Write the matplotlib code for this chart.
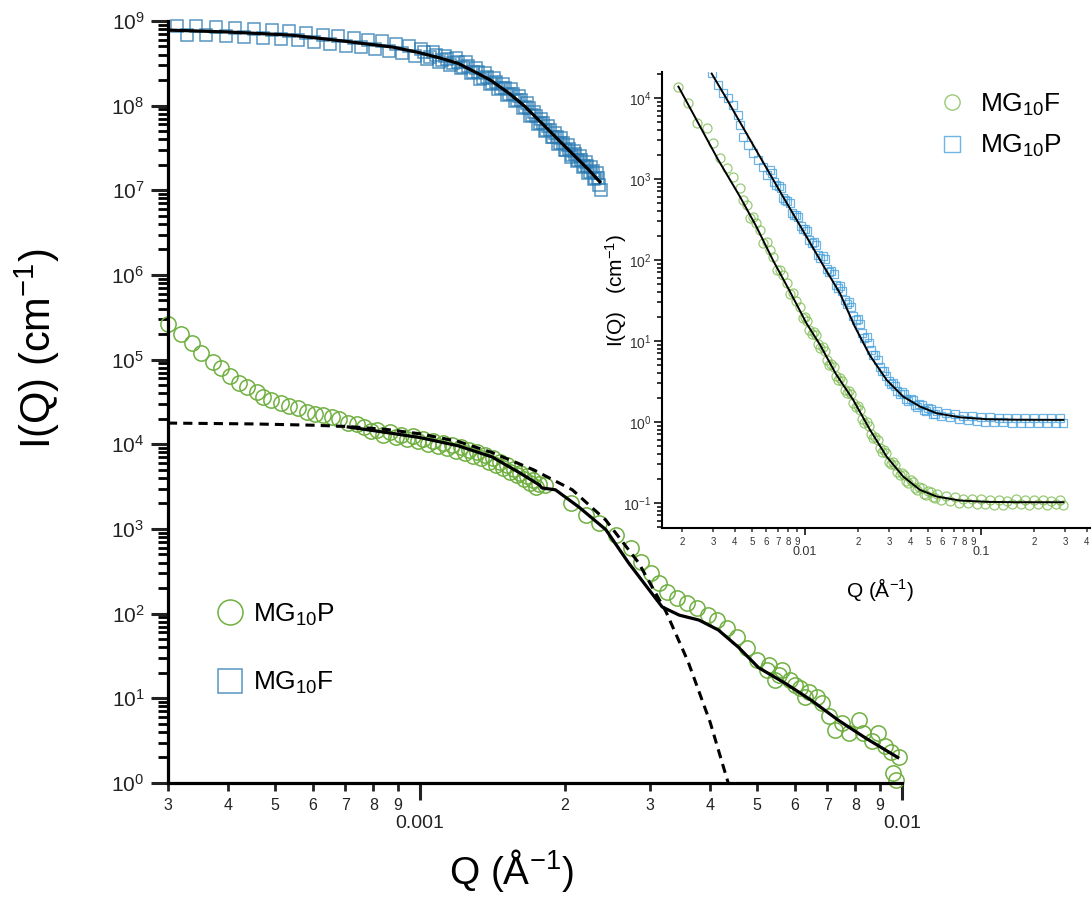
import matplotlib
matplotlib.use('Agg')
import matplotlib.pyplot as plt
import numpy as np
from matplotlib.lines import Line2D
from matplotlib.ticker import LogLocator, FuncFormatter, NullFormatter, LogFormatterMathtext

plt.rcParams['font.family'] = ['Liberation Sans', 'DejaVu Sans']
plt.rcParams['mathtext.fontset'] = 'custom'
plt.rcParams['mathtext.rm'] = 'Liberation Sans'
plt.rcParams['mathtext.it'] = 'Liberation Sans:italic'
plt.rcParams['mathtext.bf'] = 'Liberation Sans:bold'

# ---------------- main panel data ----------------
# MG10P (green circles)
p_q = [3.0e-4, 3.19e-4, 3.36e-4, 3.52e-4, 3.72e-4, 3.87e-4, 4.03e-4, 4.22e-4, 4.37e-4, 4.58e-4,
       4.73e-4, 4.9e-4, 5.15e-4, 5.36e-4, 5.59e-4, 5.83e-4, 6.06e-4, 6.3e-4, 6.57e-4, 6.8e-4,
       7.1e-4, 7.4e-4,
       7.65e-4, 7.9e-4, 8.15e-4, 8.4e-4, 8.65e-4, 8.9e-4, 9.15e-4, 9.4e-4, 9.65e-4, 9.9e-4,
       1.015e-3, 1.04e-3, 1.065e-3, 1.09e-3, 1.115e-3, 1.14e-3, 1.165e-3, 1.19e-3, 1.215e-3, 1.24e-3,
       1.265e-3, 1.29e-3, 1.315e-3, 1.34e-3, 1.365e-3, 1.39e-3, 1.415e-3, 1.44e-3, 1.465e-3, 1.49e-3,
       1.515e-3, 1.54e-3, 1.565e-3, 1.59e-3, 1.615e-3, 1.64e-3, 1.665e-3, 1.69e-3, 1.715e-3, 1.74e-3,
       1.765e-3,
       1.82e-3, 2.06e-3, 2.21e-3, 2.35e-3, 2.55e-3, 2.74e-3, 2.87e-3, 3.01e-3, 3.13e-3, 3.26e-3,
       3.42e-3, 3.58e-3, 3.76e-3, 3.95e-3, 4.13e-3, 4.34e-3, 4.55e-3, 4.77e-3, 5.0e-3, 5.25e-3,
       5.3e-3, 5.46e-3, 5.55e-3, 5.64e-3, 5.86e-3, 6.0e-3, 6.15e-3, 6.3e-3, 6.4e-3, 6.65e-3,
       6.82e-3, 7.05e-3, 7.26e-3, 7.5e-3, 7.75e-3, 8.13e-3, 8.3e-3, 8.65e-3, 8.93e-3, 9.2e-3,
       9.5e-3, 9.85e-3, 9.6e-3, 9.7e-3]
p_i = [2.6e5, 2.0e5, 1.56e5, 1.2e5, 9.3e4, 7.9e4, 6.4e4, 5.3e4, 4.7e4, 4.2e4,
       3.6e4, 3.3e4, 3.1e4, 2.8e4, 2.7e4, 2.4e4, 2.3e4, 2.2e4, 2.1e4, 2.0e4,
       1.8e4, 1.73e4,
       1.62e4, 1.42e4, 1.48e4, 1.30e4, 1.38e4, 1.22e4, 1.30e4, 1.15e4, 1.24e4, 1.08e4,
       1.17e4, 1.02e4, 1.10e4, 9.6e3, 1.04e4, 9.0e3, 9.8e3, 8.4e3, 9.2e3, 7.9e3,
       8.6e3, 7.3e3, 8.0e3, 6.8e3, 7.4e3, 6.2e3, 6.8e3, 5.7e3, 6.2e3, 5.2e3,
       5.7e3, 4.7e3, 5.1e3, 4.3e3, 4.6e3, 3.9e3, 4.2e3, 3.5e3, 3.8e3, 3.15e3,
       3.4e3,
       3.3e3, 2.0e3, 1.46e3, 1.16e3, 847, 590, 410, 299, 228, 181,
       152, 132, 115, 96, 84, 67, 53, 39, 28, 21.6,
       25, 16.4, 19, 21.6, 16.4, 14.5, 13.1, 10.5, 12.0, 10.4,
       8.7, 6.1, 4.2, 5.1, 3.9, 5.5, 3.9, 3.1, 3.9, 2.7,
       2.34, 2.05, 1.3, 1.08]

# fit through MG10P (solid) and its Guinier part (dashed)
p_fit_q = [7.1e-4, 8.5e-4, 1.0e-3, 1.2e-3, 1.41e-3, 1.6e-3, 1.77e-3, 1.79e-3, 1.91e-3, 2.14e-3,
           2.43e-3, 2.71e-3, 2.99e-3, 3.18e-3, 3.45e-3, 3.79e-3, 4.16e-3, 4.58e-3, 5.04e-3, 5.73e-3,
           6.48e-3, 7.38e-3, 8.4e-3, 9.8e-3]
p_fit_i = [1.6e4, 1.38e4, 1.2e4, 9.6e3, 7.1e3, 4.7e3, 3.3e3, 3.05e3, 2.9e3, 1.8e3,
           980, 396, 190, 120, 96, 84, 64, 40, 23, 15,
           9.5, 5.5, 3.4, 2.0]
p_guin_q = [3.0e-4, 4.5e-4, 6.0e-4, 7.1e-4, 8.5e-4, 1.0e-3, 1.2e-3, 1.41e-3, 1.72e-3, 2.07e-3,
            2.43e-3, 2.84e-3, 3.24e-3, 3.6e-3, 4.0e-3, 4.3e-3, 4.5e-3]
p_guin_i = [1.78e4, 1.74e4, 1.68e4, 1.62e4, 1.5e4, 1.33e4, 1.08e4, 8.0e3, 5.0e3, 2.9e3,
            1.27e3, 400, 105, 27, 5.2, 1.3, 0.55]

# MG10F (blue squares)
f_q = [3.13e-4, 3.28e-4, 3.43e-4, 3.6e-4, 3.77e-4, 3.95e-4, 4.13e-4, 4.32e-4, 4.52e-4, 4.72e-4,
       4.93e-4, 5.14e-4, 5.36e-4, 5.58e-4, 5.81e-4, 6.04e-4, 6.28e-4, 6.52e-4, 6.77e-4, 7.02e-4,
       7.28e-4, 7.54e-4, 7.8e-4, 8.07e-4, 8.34e-4, 8.62e-4, 8.9e-4, 9.18e-4, 9.47e-4, 9.76e-4,
       1.005e-3, 1.035e-3, 1.065e-3, 1.095e-3, 1.125e-3, 1.155e-3, 1.185e-3, 1.215e-3, 1.245e-3, 1.275e-3,
       1.305e-3, 1.335e-3, 1.365e-3, 1.395e-3, 1.425e-3, 1.455e-3, 1.485e-3, 1.515e-3, 1.545e-3, 1.575e-3,
       1.605e-3, 1.635e-3, 1.665e-3, 1.695e-3, 1.725e-3, 1.755e-3, 1.785e-3, 1.815e-3, 1.845e-3, 1.875e-3,
       1.905e-3, 1.935e-3, 1.965e-3, 1.995e-3, 2.025e-3, 2.055e-3, 2.085e-3, 2.115e-3, 2.145e-3, 2.175e-3,
       2.205e-3, 2.235e-3, 2.265e-3, 2.295e-3, 2.325e-3, 2.355e-3, 2.38e-3,
       1.02e-3, 1.05e-3, 1.08e-3, 1.11e-3, 1.14e-3, 1.17e-3, 1.20e-3, 1.23e-3, 1.26e-3, 1.29e-3,
       1.32e-3, 1.35e-3, 1.38e-3, 1.41e-3, 1.44e-3, 1.47e-3, 1.50e-3, 1.53e-3, 1.56e-3, 1.59e-3,
       1.62e-3, 1.65e-3, 1.68e-3, 1.71e-3, 1.74e-3, 1.77e-3, 1.80e-3, 1.83e-3, 1.86e-3, 1.89e-3,
       1.92e-3, 1.95e-3, 1.98e-3, 2.01e-3, 2.04e-3, 2.07e-3, 2.10e-3, 2.13e-3, 2.16e-3, 2.19e-3,
       2.22e-3, 2.25e-3, 2.28e-3, 2.31e-3, 2.34e-3]
f_i = [8.7e8, 6.9e8, 8.6e8, 6.8e8, 8.4e8, 6.6e8, 8.2e8, 6.5e8, 8.0e8, 6.3e8,
       7.85e8, 6.2e8, 7.6e8, 5.9e8, 7.2e8, 5.6e8, 6.9e8, 5.4e8, 6.6e8, 5.1e8,
       6.3e8, 4.9e8, 6.0e8, 4.7e8, 5.75e8, 4.47e8, 5.4e8, 4.2e8, 5.0e8, 3.85e8,
       4.7e8, 3.55e8, 4.3e8, 3.3e8, 3.9e8, 3.0e8, 3.6e8, 2.75e8, 3.25e8, 2.4e8,
       2.8e8, 2.07e8, 2.43e8, 1.8e8, 2.1e8, 1.55e8, 1.82e8, 1.33e8, 1.55e8, 1.12e8,
       1.29e8, 9.3e7, 1.06e8, 7.6e7, 8.5e7, 6.1e7, 6.9e7, 5.0e7, 5.75e7, 4.2e7,
       4.8e7, 3.5e7, 4.1e7, 2.95e7, 3.4e7, 2.5e7, 2.9e7, 2.2e7, 2.55e7, 1.86e7,
       2.16e7, 1.58e7, 1.86e7, 1.36e7, 1.58e7, 1.15e7, 1.02e7,
       4.27e8, 3.72e8, 3.94e8, 3.43e8, 3.59e8, 3.16e8, 3.31e8, 2.85e8, 2.92e8, 2.48e8,
       2.51e8, 2.14e8, 2.19e8, 1.85e8, 1.88e8, 1.60e8, 1.63e8, 1.37e8, 1.38e8, 1.15e8,
       1.15e8, 9.5e7, 9.4e7, 7.7e7, 7.55e7, 6.2e7, 6.17e7, 5.13e7, 5.13e7, 4.27e7,
       4.3e7, 3.61e7, 3.63e7, 3.02e7, 3.05e7, 2.59e7, 2.65e7, 2.25e7, 2.28e7, 1.92e7,
       1.94e7, 1.64e7, 1.67e7, 1.41e7, 1.41e7]
f_fit_q = [3.0e-4, 4.0e-4, 5.4e-4, 7.0e-4, 8.8e-4, 1.0e-3, 1.1e-3, 1.2e-3, 1.3e-3, 1.4e-3,
           1.53e-3, 1.65e-3, 1.79e-3, 1.95e-3, 2.1e-3, 2.24e-3, 2.36e-3]
f_fit_i = [7.8e8, 7.4e8, 6.8e8, 5.75e8, 4.9e8, 4.2e8, 3.65e8, 3.15e8, 2.5e8, 2.0e8,
           1.4e8, 9.8e7, 6.2e7, 3.8e7, 2.5e7, 1.74e7, 1.26e7]

# ---------------- inset data ----------------
# MG10F (green circles)
if_q = [1.91e-3, 2.17e-3, 2.43e-3, 2.76e-3, 3.01e-3, 3.29e-3, 3.59e-3, 3.92e-3, 4.27e-3, 4.67e-3,
        5.08e-3, 5.55e-3, 6.05e-3, 6.6e-3, 7.2e-3, 7.87e-3, 8.59e-3, 9.38e-3,
        0.0100, 0.01059, 0.01122, 0.01189, 0.01259, 0.01334, 0.01413, 0.01496, 0.01585, 0.01679,
        0.01778, 0.01884, 0.01995, 0.02113, 0.02239, 0.02371, 0.02512, 0.02661, 0.02818, 0.02985,
        0.03162, 0.0335, 0.03548, 0.03758, 0.03981, 0.04217, 0.04467, 0.04732, 0.05012, 0.05309,
        0.05623, 0.05957, 0.0631, 0.06683, 0.07079, 0.07499, 0.07943, 0.08414, 0.08913, 0.09441,
        0.1, 0.1059, 0.1122, 0.1189, 0.1259, 0.1334, 0.1413, 0.1496, 0.1585, 0.1679,
        0.1778, 0.1884, 0.1995, 0.2113, 0.2239, 0.2371, 0.2512, 0.2661, 0.2818, 0.294,
        4.47e-3, 4.87e-3, 5.3e-3, 5.8e-3, 6.3e-3, 6.9e-3, 7.5e-3, 8.2e-3, 8.95e-3, 9.7e-3,
        0.01029, 0.0109, 0.01155, 0.01223, 0.01296, 0.01372, 0.01454, 0.0154, 0.01631, 0.01728,
        0.0183, 0.01939, 0.02054, 0.02176, 0.02305, 0.02442, 0.02587, 0.02741, 0.02904, 0.03076,
        0.03258, 0.03451, 0.03656, 0.03873, 0.04104, 0.04347, 0.04606, 0.04879, 0.05169, 0.05476]
if_i = [1.38e4, 8.6e3, 4.9e3, 4.2e3, 2.76e3, 1.8e3, 1.35e3, 1.07e3, 768, 478,
        343, 234, 168, 110, 75, 52, 39, 26,
        19.5, 13.5, 12.9, 9.1, 8.4, 5.75, 5.25, 3.67, 3.47, 2.51,
        2.40, 1.72, 1.58, 1.10, 1.01, 0.71, 0.66, 0.473, 0.447, 0.324,
        0.320, 0.240, 0.237, 0.184, 0.193, 0.151, 0.157, 0.129, 0.141, 0.117,
        0.129, 0.110, 0.123, 0.105, 0.117, 0.100, 0.113, 0.099, 0.112, 0.098,
        0.111, 0.097, 0.108, 0.095, 0.110, 0.094, 0.106, 0.097, 0.111, 0.096,
        0.108, 0.095, 0.110, 0.097, 0.109, 0.094, 0.107, 0.096, 0.110, 0.095,
        550, 331, 282, 162, 132, 76, 65, 38, 31, 19,
        17.4, 12.3, 11.7, 8.2, 7.6, 5.1, 4.8, 3.3, 3.2, 2.3,
        2.2, 1.55, 1.41, 0.98, 0.90, 0.64, 0.60, 0.43, 0.41, 0.30,
        0.295, 0.224, 0.224, 0.176, 0.182, 0.145, 0.153, 0.126, 0.138, 0.115]
if_fit_q = [1.91e-3, 2.5e-3, 3.2e-3, 4.28e-3, 5.3e-3, 6.6e-3, 8.2e-3, 1.02e-2, 1.22e-2, 1.5e-2,
            1.88e-2, 2.34e-2, 2.91e-2, 3.62e-2, 4.5e-2, 5.6e-2, 7.6e-2, 0.108, 0.16, 0.294]
if_fit_i = [1.38e4, 4.7e3, 1.75e3, 600, 257, 98, 41, 16.5, 8.9, 3.9,
            1.87, 0.80, 0.373, 0.211, 0.145, 0.120, 0.107, 0.103, 0.102, 0.102]

# MG10P (blue squares)
ip_q = [2.95e-3, 3.21e-3, 3.43e-3, 3.67e-3, 3.92e-3, 4.18e-3, 4.27e-3, 4.46e-3, 4.76e-3, 5.08e-3,
        5.43e-3, 5.8e-3, 6.05e-3,
        6.31e-3, 6.68e-3, 7.08e-3, 7.5e-3, 7.94e-3, 8.41e-3, 8.91e-3, 9.44e-3, 0.0100, 0.01059,
        0.01122, 0.01189, 0.01259, 0.01334, 0.01413, 0.01496, 0.01585, 0.01679, 0.01778, 0.01884,
        0.01995, 0.02113, 0.02239, 0.02371, 0.02512, 0.02661, 0.02818, 0.02985, 0.03162, 0.0335,
        0.03548, 0.03758, 0.03981, 0.04217, 0.04467, 0.04732, 0.05012, 0.05309, 0.05623, 0.05957,
        0.0631, 0.06683, 0.07079, 0.07499, 0.07943, 0.08414, 0.08913, 0.09441, 0.1, 0.1059,
        0.1122, 0.1189, 0.1259, 0.1334, 0.1413, 0.1496, 0.1585, 0.1679, 0.1778, 0.1884,
        0.1995, 0.2113, 0.2239, 0.2371, 0.2512, 0.2661, 0.2818, 0.294,
        6.49e-3, 6.87e-3, 7.29e-3, 7.72e-3, 8.18e-3, 8.66e-3, 9.17e-3, 9.72e-3, 0.01029, 0.0109,
        0.01155, 0.01223, 0.01296, 0.01372, 0.01454, 0.0154, 0.01631, 0.01728, 0.0183, 0.01939,
        0.02054, 0.02176, 0.02305, 0.02442, 0.02587, 0.02741, 0.02904, 0.03076, 0.03258, 0.03451,
        0.03656, 0.03873, 0.04104, 0.04347, 0.04606, 0.04879, 0.05169, 0.05476]
ip_i = [2.02e4, 1.45e4, 1.14e4, 9.9e3, 8.2e3, 6.2e3, 4.6e3, 3.3e3, 2.63e3, 2.08e3,
        1.72e3, 1.42e3, 1.12e3,
        1.29e3, 912, 822, 575, 537, 380, 359, 260, 240, 174,
        166, 115, 111, 76.7, 74, 49.5, 47.3, 31.6, 29.9, 20.4,
        18.6, 12.6, 11.2, 7.8, 6.8, 4.8, 4.2, 3.24, 3.0, 2.4,
        2.34, 1.9, 1.93, 1.6, 1.66, 1.41, 1.48, 1.27, 1.35, 1.19,
        1.29, 1.135, 1.24, 1.085, 1.20, 1.06, 1.175, 1.02, 1.15, 1.01,
        1.14, 1.0, 1.13, 0.99, 1.12, 0.98, 1.12, 0.98, 1.12, 0.97,
        1.11, 0.98, 1.12, 0.97, 1.11, 0.98, 1.12, 0.97,
        1.19e3, 832, 767, 543, 507, 355, 339, 240, 226, 160,
        155, 106, 102, 71, 68, 44.7, 41.7, 28.8, 26.6, 18.2,
        16.0, 11.0, 9.5, 6.7, 5.8, 4.3, 3.7, 2.95, 2.79, 2.21,
        2.19, 1.82, 1.86, 1.53, 1.62, 1.38, 1.45, 1.24]
ip_fit_q = [2.95e-3, 3.5e-3, 4.3e-3, 5.68e-3, 7.5e-3, 1.02e-2, 1.28e-2, 1.58e-2, 1.92e-2, 2.34e-2,
            2.91e-2, 3.62e-2, 4.5e-2, 5.6e-2, 7.6e-2, 0.108, 0.16, 0.294]
ip_fit_i = [2.0e4, 1.07e4, 4.9e3, 1.72e3, 605, 194, 83, 38.8, 15.0, 6.6,
            3.3, 2.05, 1.55, 1.28, 1.14, 1.08, 1.065, 1.06]

green = '#6fb040'
blue = '#2c7cb4'
green_in = '#80bd55'
blue_in = '#4aa3dd'


def digit_label(v, pos):
    e = np.floor(np.log10(v) + 1e-9)
    m = int(round(v / 10 ** e))
    return str(m) if 2 <= m <= 9 else ''


fig = plt.figure(figsize=(10.92, 9.06), dpi=100)
ax = fig.add_axes([0.1538, 0.1358, 0.6722, 0.8411])

ax.plot(f_q, f_i, ls='none', marker='s', ms=8.5, mfc='none', mec=blue, mew=1.1, alpha=0.8,
        clip_on=False, zorder=2)
ax.plot(p_q, p_i, ls='none', marker='o', ms=11, mfc='none', mec=green, mew=1.1,
        clip_on=False, zorder=2)
ax.plot(f_fit_q, f_fit_i, color='black', lw=2.3, zorder=3)
ax.plot(p_guin_q, p_guin_i, color='black', lw=2.2, ls=(0, (3, 2)), zorder=3)
ax.plot(p_fit_q, p_fit_i, color='black', lw=2.3, zorder=3)

ax.set_xscale('log')
ax.set_yscale('log')
ax.set_xlim(3e-4, 1e-2)
ax.set_ylim(1, 1e9)

for s in ['top', 'right']:
    ax.spines[s].set_visible(False)
for s in ['left', 'bottom']:
    ax.spines[s].set_linewidth(2.3)

ax.yaxis.set_major_locator(LogLocator(base=10, numticks=20))
ax.yaxis.set_minor_locator(LogLocator(base=10, subs=np.arange(2, 10), numticks=20))
ax.yaxis.set_major_formatter(LogFormatterMathtext())
ax.yaxis.set_minor_formatter(NullFormatter())
ax.xaxis.set_major_locator(LogLocator(base=10, numticks=20))
ax.xaxis.set_minor_locator(LogLocator(base=10, subs=np.arange(2, 10), numticks=20))
ax.xaxis.set_major_formatter(FuncFormatter(lambda v, pos: f'{v:g}'))
ax.xaxis.set_minor_formatter(FuncFormatter(digit_label))

ax.tick_params(axis='y', which='major', length=12, width=2.2, pad=5, labelsize=15, colors='#222222')
ax.tick_params(axis='y', which='minor', length=7, width=2.0)
ax.tick_params(axis='x', which='major', length=12, width=2.2, pad=11, labelsize=14, colors='#222222')
ax.tick_params(axis='x', which='minor', length=6, width=2.0, pad=5, labelsize=11.5, colors='#222222')

ax.set_ylabel('I(Q) (cm$^{-1}$)', fontsize=30)
ax.yaxis.set_label_coords(-0.145, 0.57)
ax.set_xlabel('Q (Å$^{-1}$)', fontsize=28)
ax.xaxis.set_label_coords(0.468, -0.084)

h1 = Line2D([], [], ls='none', marker='o', ms=18, mfc='none', mec=green, mew=1.1)
h2 = Line2D([], [], ls='none', marker='s', ms=17, mfc='none', mec=blue, mew=1.1, alpha=0.8)
ax.legend([h1, h2], ['MG$_{10}$P', 'MG$_{10}$F'], loc='center left', bbox_to_anchor=(0.0627, 0.176),
          frameon=False, fontsize=19, labelspacing=1.6, handletextpad=0.28, handlelength=1.2,
          borderpad=0, borderaxespad=0)

# ---------------- inset ----------------
axi = fig.add_axes([0.6062, 0.4172, 0.3919, 0.5033])
axi.patch.set_alpha(0)
axi.plot(if_q, if_i, ls='none', marker='o', ms=6.5, mfc='none', mec=green_in, mew=0.9, alpha=0.8, zorder=2)
axi.plot(ip_q, ip_i, ls='none', marker='s', ms=6.0, mfc='none', mec=blue_in, mew=0.9, alpha=0.8, zorder=2)
axi.plot(if_fit_q, if_fit_i, color='black', lw=1.4, zorder=3)
axi.plot(ip_fit_q, ip_fit_i, color='black', lw=1.4, zorder=3)

axi.set_xscale('log')
axi.set_yscale('log')
axi.set_xlim(1.54e-3, 0.416)
axi.set_ylim(0.049, 2.09e4)
for s in ['top', 'right']:
    axi.spines[s].set_visible(False)
for s in ['left', 'bottom']:
    axi.spines[s].set_linewidth(1.5)

axi.yaxis.set_major_locator(LogLocator(base=10, numticks=20))
axi.yaxis.set_minor_locator(LogLocator(base=10, subs=np.arange(2, 10), numticks=20))
axi.yaxis.set_major_formatter(LogFormatterMathtext())
axi.yaxis.set_minor_formatter(NullFormatter())
axi.xaxis.set_major_locator(LogLocator(base=10, numticks=20))
axi.xaxis.set_minor_locator(LogLocator(base=10, subs=np.arange(2, 10), numticks=20))
axi.xaxis.set_major_formatter(FuncFormatter(lambda v, pos: f'{v:g}'))
axi.xaxis.set_minor_formatter(FuncFormatter(digit_label))

axi.tick_params(axis='y', which='major', length=6, width=1.4, pad=1.5, labelsize=10, colors='#333333')
axi.tick_params(axis='y', which='minor', length=3.5, width=1.1)
axi.tick_params(axis='x', which='major', length=5, width=1.4, pad=8, labelsize=9, colors='#333333')
axi.tick_params(axis='x', which='minor', length=3, width=1.1, pad=3.5, labelsize=7, colors='#333333')

axi.set_ylabel('I(Q)   (cm$^{-1}$)', fontsize=15)
axi.yaxis.set_label_coords(-0.077, 0.52)
axi.set_xlabel('Q (Å$^{-1}$)', fontsize=15)
axi.xaxis.set_label_coords(0.509, -0.105)

g1 = Line2D([], [], ls='none', marker='o', ms=11, mfc='none', mec=green_in, mew=1.0, alpha=0.8)
g2 = Line2D([], [], ls='none', marker='s', ms=11, mfc='none', mec=blue_in, mew=1.0, alpha=0.8)
axi.legend([g1, g2], ['MG$_{10}$F', 'MG$_{10}$P'], loc='center left', bbox_to_anchor=(0.647, 0.883),
           frameon=False, fontsize=19, labelspacing=0.57, handletextpad=0.55, handlelength=1.0,
           borderpad=0, borderaxespad=0)

fig.savefig('out.png', dpi=100)
